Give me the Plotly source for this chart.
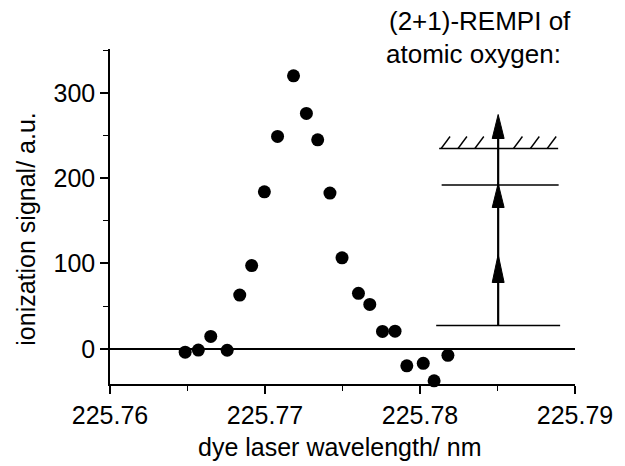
import plotly.graph_objects as go

# ---- data ----
wavelength_nm = [225.76485, 225.76570, 225.76650, 225.76756, 225.76837, 225.76914,
                 225.76996, 225.77081, 225.77184, 225.77267, 225.77340, 225.77419,
                 225.77497, 225.77603, 225.77676, 225.77758, 225.77839, 225.77915,
                 225.78021, 225.78091, 225.78180]
signal_au = [-4, -1.5, 14.5, -1.7, 63, 97.6, 184, 249, 320, 276, 245, 182.6,
             106.7, 65, 52, 20.4, 20.6, -20, -17, -37.6, -7.7]

x_ticks = [225.76, 225.77, 225.78, 225.79]
y_ticks = [0, 100, 200, 300]
x_title = "dye laser wavelength/ nm"
y_title = "ionization signal/ a.u."
note_lines = ["(2+1)-REMPI of", "atomic oxygen:"]

FONT = "Liberation Sans, Arial, Helvetica, sans-serif"
W, H = 625, 466
L, R, T, B = 110, 46, 49, 82
pw, ph = W - L - R, H - T - B


def px(x):
    return (x - L) / pw


def py(y):
    return (H - B - y) / ph


fig = go.Figure()
fig.add_trace(go.Scatter(
    x=wavelength_nm, y=signal_au, mode="markers",
    marker=dict(size=13, color="black", line=dict(width=0)),
    cliponaxis=False, showlegend=False, hoverinfo="x+y"))

shapes = []
# energy level diagram (decoration, in pixel->paper coordinates)
lvl = dict(type="line", xref="paper", yref="paper", line=dict(color="black", width=1.6))
shapes.append(dict(lvl, x0=px(439), x1=px(564), y0=py(325.5), y1=py(325.5)))
shapes.append(dict(lvl, x0=px(444.5), x1=px(562.5), y0=py(185), y1=py(185)))
shapes.append(dict(lvl, x0=px(442), x1=px(562), y0=py(148.5), y1=py(148.5)))
for bx in [444, 461, 478, 517, 534, 551]:
    shapes.append(dict(type="line", xref="paper", yref="paper",
                       line=dict(color="black", width=1.4),
                       x0=px(bx), y0=py(148.5), x1=px(bx + 9), y1=py(136.5)))
ax_x = 501.5
shapes.append(dict(type="line", xref="paper", yref="paper",
                   line=dict(color="black", width=2.2),
                   x0=px(ax_x), x1=px(ax_x), y0=py(325.5), y1=py(125)))
for tip, ln in [(254.5, 28), (183.5, 24), (114.5, 24)]:
    path = "M {},{} L {},{} L {},{} Z".format(
        px(ax_x), py(tip), px(ax_x - 6), py(tip + ln), px(ax_x + 6), py(tip + ln))
    shapes.append(dict(type="path", xref="paper", yref="paper", path=path,
                       fillcolor="black", line=dict(color="black", width=1)))

annotations = [
    dict(text=note_lines[0], xref="paper", yref="paper", x=px(389), y=py(21),
         xanchor="left", yanchor="middle", showarrow=False,
         font=dict(family=FONT, size=26, color="black")),
    dict(text=note_lines[1], xref="paper", yref="paper", x=px(386), y=py(54),
         xanchor="left", yanchor="middle", showarrow=False,
         font=dict(family=FONT, size=26, color="black")),
    dict(text=x_title, xref="paper", yref="paper", x=px(341), y=py(447),
         xanchor="center", yanchor="middle", showarrow=False,
         font=dict(family=FONT, size=25, color="black")),
    dict(text=y_title, xref="paper", yref="paper", x=px(25), y=py(229),
         xanchor="center", yanchor="middle", showarrow=False, textangle=-90,
         font=dict(family=FONT, size=25, color="black")),
]

axis_common = dict(showgrid=False, showline=True, linecolor="black", linewidth=1.5,
                   ticks="outside", ticklen=8, tickwidth=1.5, tickcolor="black",
                   tickfont=dict(family=FONT, size=25, color="black"), mirror=False)

fig.update_layout(
    width=W, height=H, margin=dict(l=L, r=R, t=T, b=B, pad=0),
    paper_bgcolor="white", plot_bgcolor="white",
    font=dict(family=FONT, color="black"),
    xaxis=dict(axis_common, range=[225.76, 225.79], tickvals=x_ticks,
               ticktext=["{:.2f}".format(v) for v in x_ticks], zeroline=False,
               minor=dict(dtick=0.005, tick0=225.76, ticks="outside", ticklen=5,
                          tickwidth=1.2, tickcolor="black")),
    yaxis=dict(axis_common, range=[-41.3, 351.5], tickvals=y_ticks,
               zeroline=True, zerolinecolor="black", zerolinewidth=1.5,
               minor=dict(dtick=50, tick0=0, ticks="outside", ticklen=5,
                          tickwidth=1.2, tickcolor="black")),
    shapes=shapes, annotations=annotations,
)

fig.write_html("out.html")
